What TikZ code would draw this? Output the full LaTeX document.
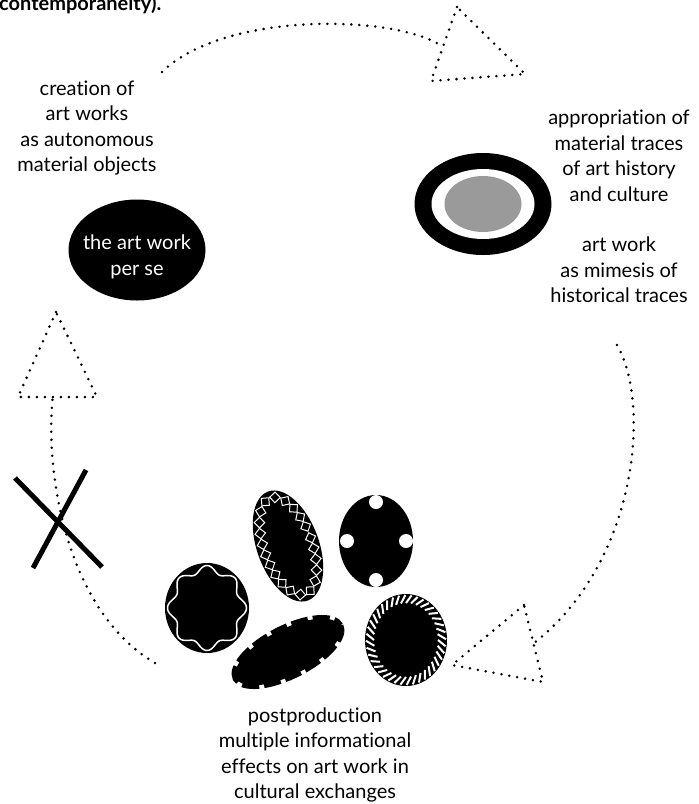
\documentclass[tikz,border=0pt]{standalone}
\usepackage{fontspec}
\setmainfont{Lato}[Ligatures={NoCommon}]
\usetikzlibrary{shapes.geometric, positioning, calc, decorations.markings}

\definecolor{ashgray}{HTML}{9A9A9A}

\begin{document}
\begin{tikzpicture}[
    x=1pt, y=-1pt,
    caption/.style={align=center, font=\fontsize{20}{25.5}\selectfont, inner sep=0pt},
    dots/.style={line width=2.8pt, line cap=round, dash pattern=on 0pt off 8pt},
    head/.style={dots, line join=round},
    blob/.style={ellipse, fill=black, inner sep=0pt}
]
\useasboundingbox (0,0) rectangle (699,804);
\clip (0,0) rectangle (699,804);

% Caption fragment
\node (fragment) [anchor=base west, inner sep=0pt, font=\bfseries\fontsize{20}{20}\selectfont] at (-1,10) {contemporaneity).};

% Texts
\node (creation) [caption] at (87,128) {creation of\\art works\\as autonomous\\material objects};
\node (appro) [caption] at (619,156) {appropriation of\\material traces\\of art history\\and culture};
\node (mimesis) [caption] at (619,270) {art work\\as mimesis of\\historical traces};
\node (postprod) [caption] at (315,755) {postproduction\\multiple informational\\effects on art work in\\cultural exchanges};

% The art work per se
\node (perse) [blob, minimum width=137pt, minimum height=101pt] at (137,250) {};
\node (persetext) [caption, text=white] at ([yshift=-7pt]perse.center) {the art work\\per se};

% Historical traces
\node (traces) [blob, minimum width=137pt, minimum height=102pt] at (483,204) {};
\fill[white] (traces.center) ellipse [x radius=51.5, y radius=35];
\fill[ashgray] (traces.center) ellipse [x radius=38.5, y radius=28];

% Postproduction variants
\begin{scope}[shift={(207,608)}]
  \fill (0,0) ellipse [x radius=42, y radius=45];
  \draw[white, line width=1.5pt] plot[domain=0:360, samples=200, smooth] ({(36+3.5*cos(8*\x))*cos(\x)}, {(39+3.5*cos(8*\x))*sin(\x)}) -- cycle;
\end{scope}

\begin{scope}[shift={(288,546)}, rotate=20]
  \fill (0,0) ellipse [x radius=31, y radius=58];
  \path[decorate, decoration={markings, mark=between positions 0 and 0.99 step 11pt with {\draw[white, line width=1pt] (5.3,0) -- (0,5.3) -- (-5.3,0) -- (0,-5.3) -- cycle;}}] (0,0) ellipse [x radius=24, y radius=51];
\end{scope}

\begin{scope}[shift={(376,541)}]
  \fill (0,0) ellipse [x radius=37, y radius=46];
  \foreach \px/\py in {0/-39, 0/39, -29/0, 30/0}
    \fill[white] (\px,\py) circle [radius=7];
\end{scope}

\begin{scope}[shift={(288,652)}, rotate=27]
  \fill (0,0) ellipse [x radius=58, y radius=23];
  \draw[line width=5.5pt, dash pattern=on 17pt off 5pt] (0,0) ellipse [x radius=59, y radius=24];
\end{scope}

\begin{scope}[shift={(406,640)}]
  \fill (0,0) ellipse [x radius=41, y radius=46];
  \foreach \a in {0,9,...,351}
    \draw[white, line width=2pt] ({32*cos(\a)},{37*sin(\a)}) -- ({40*cos(\a+8)},{45*sin(\a+8)});
\end{scope}

% Arrow heads
\coordinate (toptip) at (457,7);
\coordinate (topleft) at (431,81);
\coordinate (topright) at (525,74);
\coordinate (righttip) at (524,605);
\coordinate (rightleft) at (452,665);
\coordinate (rightright) at (543,682);
\coordinate (lefttip) at (56,312);
\coordinate (leftleft) at (18,397);
\coordinate (leftright) at (97,397);

\draw[head] (toptip) -- (topleft) -- (topright) -- cycle;
\draw[head] (righttip) -- (rightleft) -- (rightright) -- cycle;
\draw[head] (lefttip) -- (leftleft) -- (leftright) -- cycle;

% Cycle
\coordinate (topstart) at (162,72);
\coordinate (rightstart) at (617,345);
\coordinate (leftstart) at (155,663);

\draw[dots] (topstart) .. controls (225,10) and (400,15) .. ($(toptip)!.54!(topleft)$);
\draw[dots] (rightstart) .. controls (650,400) and (640,560) .. ($(righttip)!.5!(rightright)$);
\draw[dots] (leftstart) .. controls (65,610) and (45,470) .. ($(leftleft)!.44!(leftright)$);

% Broken link
\draw[line width=5pt] (15,478) -- (102,567);
\draw[line width=5pt] (86,470) -- (33,568);

\end{tikzpicture}
\end{document}
